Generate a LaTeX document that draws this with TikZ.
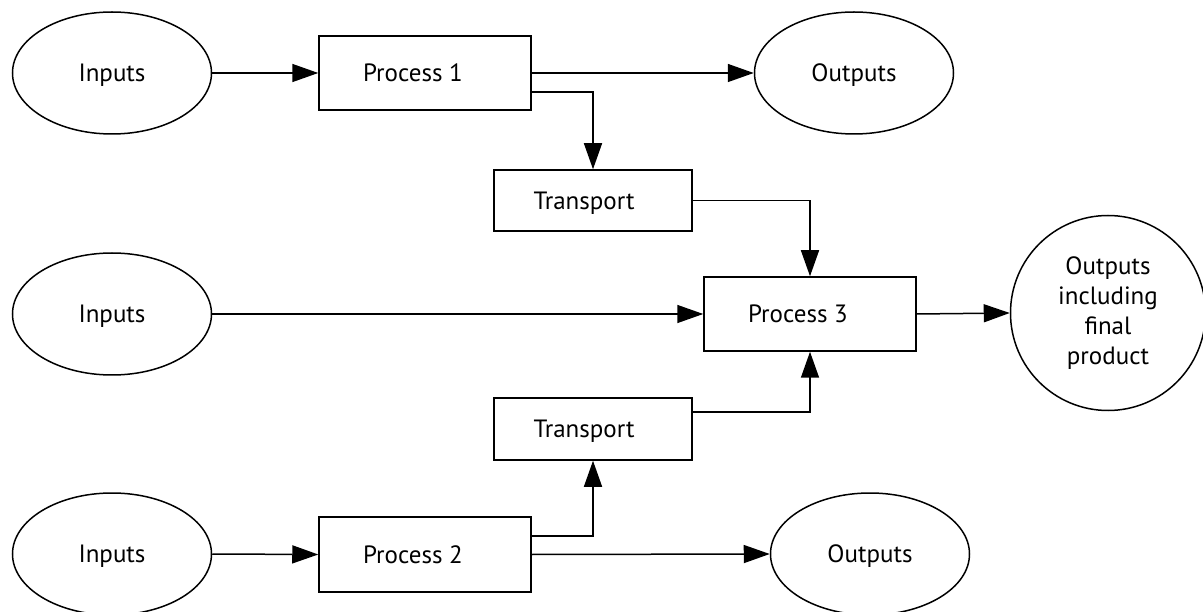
\documentclass[tikz,border=0pt]{standalone}
\usepackage{fontspec}
\setmainfont{PT Sans}
\usetikzlibrary{shapes.geometric,arrows.meta,calc}
\tikzset{
  base/.style={draw, line width=1.5pt, inner sep=0pt, font=\fontsize{25}{30}\selectfont},
  oneline/.style={text height=17.5pt, text depth=0pt},
  lshift/.style={execute at begin node={\hspace*{-#1}}},
  oval/.style={base, oneline, ellipse, minimum width=199pt, minimum height=122pt},
  proc/.style={base, oneline, lshift=24pt, rectangle, minimum width=212pt, minimum height=74pt},
  trans/.style={base, oneline, lshift=18pt, rectangle, minimum width=198pt, minimum height=61pt},
  final/.style={base, circle, minimum size=195pt, align=center},
  conn/.style={line width=1.5pt, -{Triangle[length=26pt,width=18pt]}}
}
\begin{document}
\begin{tikzpicture}[x=1pt,y=-1pt]
\useasboundingbox (0,0) rectangle (1203,612);
\fill[white] (0,0) rectangle (1203,612);
\node[oval] (in1) at (112,73) {Inputs};
\node[proc] (p1) at (425,73) {Process 1};
\node[oval] (out1) at (854,73) {Outputs};
\node[trans] (t1) at (593,200.5) {Transport};
\node[oval] (in2) at (112,314) {Inputs};
\node[proc] (p3) at (810,314) {Process 3};
\node[final] (fin) at (1108,313) {Outputs\\including\\final\\product};
\node[trans, minimum height=62pt] (t2) at (593,429) {Transport};
\node[oval] (in3) at (112,554) {Inputs};
\node[proc, minimum height=75pt] (p2) at (425,554.5) {Process 2};
\node[oval] (out2) at (870,554) {Outputs};

\draw[conn] (in1.east) -- (p1.west);
\draw[conn] (p1.east) -- (out1.west);
\draw[conn] ($(p1.east)+(0,19)$) -| (t1.north);
\draw[conn] (t1.east) -| (p3.north);
\draw[conn] (in2.east) -- (p3.west);
\draw[conn] (p3.east) -- (fin.west);
\draw[conn] ($(t2.north east)+(0,15)$) -| (p3.south);
\draw[conn] ($(p2.east)+(0,-18.5)$) -| (t2.south);
\draw[conn] (in3.east) -- (p2.west);
\draw[conn] (p2.east) -- (out2.west);
\end{tikzpicture}
\end{document}
